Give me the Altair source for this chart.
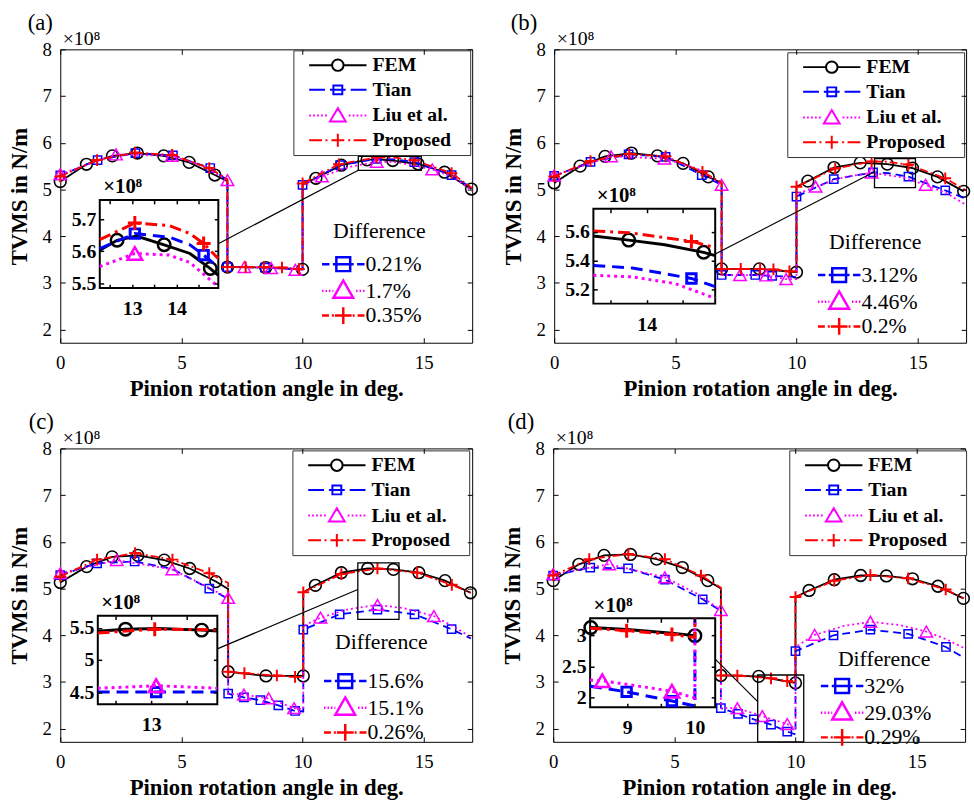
import altair as alt
import pandas as pd

F = "Liberation Serif"
W, H = 417, 297
X_MAIN = [0, 17]
Y_MAIN = [1.72, 8]
X_TICKS = [0, 5, 10, 15]
Y_TICKS = [2, 3, 4, 5, 6, 7, 8]
SERIES = ["FEM", "Tian", "Liu et al.", "Proposed"]
COLORS = ["#000000", "#0000FF", "#FF00FF", "#FF0000"]

# ---------------- data: panel (a) ----------------
A_FEM = dict(x=[0, 1.08, 2.15, 3.18, 4.27, 5.32, 6.38, 6.9, 6.9, 8.48, 10.0, 10.0, 10.55, 11.6, 12.66, 13.1, 13.72, 14.77, 15.86, 16.97],
             y=[5.17, 5.54, 5.72, 5.78, 5.72, 5.58, 5.31, 5.18, 3.34, 3.33, 3.29, 5.12, 5.24, 5.52, 5.635, 5.647, 5.62, 5.546, 5.37, 5.01],
             m=[1, 1, 1, 1, 1, 1, 1, 0, 1, 1, 1, 0, 1, 1, 1, 0, 1, 1, 1, 1])
A_TIAN = dict(x=[0, 1.54, 3.1, 4.65, 6.19, 6.9, 6.9, 8.45, 10.0, 10.0, 11.55, 13.06, 13.83, 14.61, 16.15, 17.0],
              y=[5.30, 5.63, 5.78, 5.73, 5.46, 5.20, 3.34, 3.33, 3.29, 5.10, 5.52, 5.655, 5.644, 5.588, 5.31, 5.02],
              m=[1, 1, 1, 1, 1, 0, 1, 1, 0, 1, 1, 1, 0, 1, 1, 0])
A_LIU = dict(x=[0, 2.3, 4.6, 5.9, 6.9, 6.9, 7.6, 8.7, 9.7, 10.0, 10.0, 10.8, 11.9, 13.06, 13.83, 14.76, 15.35, 16.2, 17.0],
             y=[5.33, 5.75, 5.72, 5.50, 5.20, 3.34, 3.34, 3.32, 3.28, 3.28, 5.10, 5.28, 5.48, 5.593, 5.588, 5.495, 5.43, 5.27, 4.97],
             m=[1, 1, 1, 0, 1, 0, 1, 1, 1, 0, 0, 1, 0, 1, 0, 0, 1, 0, 0])
A_PROP = dict(x=[0, 1.52, 3.08, 4.62, 6.15, 6.9, 6.9, 7.65, 8.4, 9.15, 9.85, 10.0, 10.0, 11.5, 13.06, 13.83, 14.61, 16.15, 17.0],
              y=[5.28, 5.63, 5.79, 5.74, 5.46, 5.22, 3.34, 3.34, 3.34, 3.33, 3.30, 3.30, 5.13, 5.54, 5.688, 5.68, 5.624, 5.35, 5.03],
              m=[1, 1, 1, 1, 1, 0, 1, 1, 1, 1, 1, 0, 1, 1, 1, 0, 1, 1, 0])
AI_FEM = dict(x=[12.27, 12.66, 13.1, 13.72, 14.3, 14.76, 14.94], y=[5.603, 5.634, 5.647, 5.62, 5.593, 5.546, 5.525], m=[0, 1, 0, 1, 0, 1, 0])
AI_TIAN = dict(x=[12.27, 13.06, 13.83, 14.3, 14.61, 14.94], y=[5.608, 5.655, 5.644, 5.62, 5.588, 5.55], m=[0, 1, 0, 0, 1, 0])
AI_LIU = dict(x=[12.27, 13.06, 13.83, 14.3, 14.76, 14.94], y=[5.552, 5.593, 5.588, 5.565, 5.51, 5.49], m=[0, 1, 0, 0, 0, 0])
AI_PROP = dict(x=[12.27, 13.06, 13.83, 14.3, 14.61, 14.94], y=[5.636, 5.688, 5.68, 5.655, 5.624, 5.577], m=[0, 1, 0, 0, 1, 0])
A_INSET_X = [12.27, 14.94]
A_INSET_Y = [5.485, 5.76]
A_ZOOM = dict(x=[12.3, 14.9], y=[5.41, 5.71])
A_LINK = dict(x=[6.52, 12.3], y=[3.84, 5.41])
A_DIFF = ["0.21%", "1.7%", "0.35%"]

# ---------------- data: panel (b) ----------------
B_FEM = dict(x=[0, 1.07, 2.1, 3.19, 4.26, 5.32, 6.36, 6.91, 6.91, 8.47, 10.0, 10.0, 10.47, 11.55, 12.63, 13.75, 14.79, 15.82, 16.9],
             y=[5.14, 5.50, 5.71, 5.78, 5.72, 5.56, 5.27, 5.14, 3.30, 3.30, 3.23, 5.06, 5.18, 5.47, 5.57, 5.542, 5.457, 5.27, 4.96],
             m=[1, 1, 1, 1, 1, 1, 1, 0, 1, 1, 1, 0, 1, 1, 1, 1, 1, 1, 1])
B_TIAN = dict(x=[0, 1.5, 3.07, 4.6, 6.09, 6.91, 6.91, 8.3, 9.0, 10.0, 10.0, 11.54, 13.16, 13.8, 14.62, 16.14, 17.0],
              y=[5.29, 5.59, 5.75, 5.70, 5.31, 5.10, 3.17, 3.17, 3.15, 3.13, 4.85, 5.22, 5.365, 5.348, 5.275, 4.98, 4.80],
              m=[1, 1, 1, 1, 1, 0, 1, 1, 1, 0, 1, 1, 1, 0, 1, 1, 0])
B_LIU = dict(x=[0, 2.35, 4.55, 5.9, 6.91, 6.91, 7.67, 8.75, 9.57, 10.0, 10.0, 10.79, 12.0, 13.1, 14.39, 15.33, 16.2, 17.0],
             y=[5.30, 5.71, 5.66, 5.45, 5.10, 3.17, 3.17, 3.16, 3.08, 3.08, 4.90, 5.06, 5.27, 5.36, 5.26, 5.10, 4.92, 4.67],
             m=[1, 1, 1, 0, 1, 0, 1, 1, 1, 0, 0, 1, 0, 1, 0, 1, 0, 0])
B_PROP = dict(x=[0, 1.5, 3.1, 4.6, 6.12, 6.91, 6.91, 7.7, 8.5, 9.05, 9.71, 10.0, 10.0, 11.6, 13.1, 13.75, 14.62, 16.14, 17.0],
              y=[5.28, 5.61, 5.76, 5.71, 5.38, 5.15, 3.30, 3.30, 3.30, 3.29, 3.25, 3.24, 5.06, 5.45, 5.60, 5.594, 5.533, 5.24, 4.98],
              m=[1, 1, 1, 1, 1, 0, 1, 1, 1, 1, 1, 0, 1, 1, 1, 0, 1, 1, 0])
BI_FEM = dict(x=[13.26, 13.75, 14.25, 14.79, 14.95], y=[5.571, 5.542, 5.51, 5.457, 5.434], m=[0, 1, 0, 1, 0])
BI_TIAN = dict(x=[13.26, 13.8, 14.62, 14.95], y=[5.366, 5.348, 5.275, 5.218], m=[0, 0, 1, 0])
BI_LIU = dict(x=[13.26, 13.8, 14.39, 14.95], y=[5.297, 5.286, 5.24, 5.137], m=[0, 0, 0, 0])
BI_PROP = dict(x=[13.26, 13.75, 14.62, 14.95], y=[5.605, 5.594, 5.533, 5.49], m=[0, 0, 1, 0])
B_INSET_X = [13.26, 14.95]
B_INSET_Y = [5.10, 5.76]
B_ZOOM = dict(x=[13.22, 14.91], y=[5.04, 5.66])
B_LINK = dict(x=[6.65, 13.22], y=[3.62, 5.38])
B_DIFF = ["3.12%", "4.46%", "0.2%"]

# ---------------- data: panel (c) ----------------
C_FEM = dict(x=[0, 1.09, 2.14, 3.2, 4.29, 5.34, 6.42, 6.93, 6.93, 8.49, 10.03, 10.03, 10.53, 11.6, 12.69, 13.75, 14.8, 15.88, 16.93],
             y=[5.13, 5.47, 5.68, 5.71, 5.61, 5.43, 5.15, 4.99, 3.22, 3.13, 3.13, 4.92, 5.07, 5.34, 5.43, 5.41, 5.34, 5.17, 4.91],
             m=[1, 1, 1, 1, 1, 1, 1, 0, 1, 1, 1, 0, 1, 1, 1, 1, 1, 1, 1])
C_TIAN = dict(x=[0, 1.52, 3.07, 4.63, 6.15, 6.93, 6.93, 7.58, 8.26, 9.0, 9.69, 10.03, 10.03, 11.53, 13.09, 14.62, 16.15, 16.95],
              y=[5.29, 5.54, 5.58, 5.42, 5.0, 4.78, 2.75, 2.67, 2.61, 2.50, 2.38, 2.37, 4.12, 4.45, 4.55, 4.45, 4.13, 3.93],
              m=[1, 1, 1, 0, 1, 0, 1, 1, 1, 1, 1, 0, 1, 1, 1, 1, 1, 0])
C_LIU = dict(x=[0, 2.33, 4.62, 5.9, 6.93, 6.93, 7.58, 8.6, 9.65, 10.03, 10.03, 10.74, 11.9, 13.09, 14.2, 15.42, 16.2, 16.95],
             y=[5.33, 5.61, 5.41, 5.08, 4.80, 2.75, 2.73, 2.65, 2.44, 2.42, 4.20, 4.38, 4.56, 4.65, 4.58, 4.41, 4.20, 3.96],
             m=[1, 1, 1, 0, 1, 0, 1, 1, 1, 0, 0, 1, 0, 1, 0, 1, 0, 0])
C_PROP = dict(x=[0, 1.52, 3.09, 4.63, 6.15, 6.93, 6.93, 7.6, 8.3, 8.94, 9.69, 10.03, 10.03, 11.6, 13.09, 14.73, 16.16, 16.95],
              y=[5.26, 5.62, 5.76, 5.62, 5.33, 5.12, 3.22, 3.19, 3.16, 3.14, 3.11, 3.11, 4.92, 5.31, 5.43, 5.34, 5.08, 4.91],
              m=[1, 1, 1, 1, 1, 0, 1, 1, 0, 1, 1, 0, 1, 1, 1, 1, 1, 0])
CI_FEM = dict(x=[12.25, 12.64, 13.1, 13.71, 13.93], y=[5.446, 5.48, 5.49, 5.465, 5.45], m=[0, 1, 0, 1, 0])
CI_TIAN = dict(x=[12.25, 13.07, 13.93], y=[4.50, 4.50, 4.50], m=[0, 1, 0])
CI_LIU = dict(x=[12.25, 12.7, 13.07, 13.5, 13.93], y=[4.56, 4.58, 4.60, 4.58, 4.56], m=[0, 0, 1, 0, 0])
CI_PROP = dict(x=[12.25, 13.05, 13.93], y=[5.42, 5.48, 5.47], m=[0, 1, 0])
C_INSET_X = [12.25, 13.93]
C_INSET_Y = [4.31, 5.69]
C_ZOOM = dict(x=[12.28, 13.98], y=[4.34, 5.55])
C_LINK = dict(x=[6.48, 12.28], y=[3.71, 4.98])
C_DIFF = ["15.6%", "15.1%", "0.26%"]

# ---------------- data: panel (d) ----------------
D_FEM = dict(x=[0, 1.06, 2.1, 3.19, 4.27, 5.33, 6.38, 6.92, 6.92, 8.48, 10.0, 10.0, 10.56, 11.6, 12.69, 13.75, 14.83, 15.88, 16.93],
             y=[5.17, 5.52, 5.71, 5.73, 5.63, 5.45, 5.17, 5.0, 3.14, 3.12, 2.98, 4.82, 4.96, 5.19, 5.28, 5.27, 5.21, 5.05, 4.79],
             m=[1, 1, 1, 1, 1, 1, 1, 0, 1, 1, 1, 0, 1, 1, 1, 1, 1, 1, 1])
D_TIAN = dict(x=[0, 1.53, 3.09, 4.61, 6.17, 6.92, 6.92, 7.63, 8.28, 8.99, 9.66, 10.0, 10.0, 11.57, 13.09, 14.65, 16.21, 16.95],
              y=[5.28, 5.45, 5.43, 5.19, 4.77, 4.52, 2.44, 2.32, 2.20, 2.09, 1.94, 1.88, 3.66, 4.00, 4.12, 4.03, 3.75, 3.52],
              m=[1, 1, 1, 1, 1, 0, 1, 1, 1, 1, 1, 0, 1, 1, 1, 1, 1, 0])
D_LIU = dict(x=[0, 2.31, 4.61, 5.9, 6.92, 6.92, 7.6, 8.63, 9.66, 10.0, 10.0, 10.79, 12.0, 13.09, 14.3, 15.4, 16.2, 16.95],
             y=[5.31, 5.52, 5.24, 4.90, 4.54, 2.44, 2.44, 2.27, 2.10, 2.0, 3.75, 4.01, 4.20, 4.29, 4.22, 4.08, 3.92, 3.73],
             m=[1, 1, 1, 0, 1, 0, 1, 1, 1, 0, 0, 1, 0, 1, 0, 1, 0, 0])
D_PROP = dict(x=[0, 1.49, 3.1, 4.61, 6.1, 6.92, 6.92, 7.6, 8.99, 9.66, 10.0, 10.0, 11.6, 13.09, 14.65, 16.2, 16.95],
              y=[5.28, 5.63, 5.74, 5.63, 5.28, 5.02, 3.14, 3.14, 3.08, 3.02, 2.98, 4.82, 5.17, 5.29, 5.22, 4.98, 4.79],
              m=[1, 1, 1, 1, 1, 0, 1, 1, 1, 1, 0, 1, 1, 1, 1, 1, 0])
DI_FEM = dict(x=[8.46, 9.0, 9.66, 10.0], y=[3.13, 3.10, 3.04, 3.0], m=[1, 0, 0, 1])
DI_TIAN = dict(x=[8.45, 8.99, 9.66, 10.0, 10.0], y=[2.18, 2.09, 1.94, 1.86, 3.28], m=[0, 1, 1, 0, 0])
DI_LIU = dict(x=[8.45, 8.63, 9.66, 10.0, 10.0], y=[2.28, 2.27, 2.10, 1.99, 3.28], m=[0, 1, 1, 0, 0])
DI_PROP = dict(x=[8.45, 8.99, 9.66, 10.0, 10.0], y=[3.12, 3.08, 3.02, 2.97, 3.28], m=[0, 1, 1, 0, 0])
D_INSET_X = [8.45, 10.30]
D_INSET_Y = [1.84, 3.28]
D_ZOOM = dict(x=[8.44, 10.34], y=[1.72, 3.15])
D_LINK = dict(x=[6.69, 8.44], y=[3.49, 2.58])
D_DIFF = ["32%", "29.03%", "0.29%"]

PANELS = {
    "a": dict(main=[A_FEM, A_TIAN, A_LIU, A_PROP], inset=[AI_FEM, AI_TIAN, AI_LIU, AI_PROP],
              ix=A_INSET_X, iy=A_INSET_Y, zoom=A_ZOOM, link=A_LINK, diff=A_DIFF,
              lab_x=[13, 14], tick_x=[12.5, 13, 13.5, 14, 14.5], lab_y=[5.5, 5.6, 5.7]),
    "b": dict(main=[B_FEM, B_TIAN, B_LIU, B_PROP], inset=[BI_FEM, BI_TIAN, BI_LIU, BI_PROP],
              ix=B_INSET_X, iy=B_INSET_Y, zoom=B_ZOOM, link=B_LINK, diff=B_DIFF,
              lab_x=[14], tick_x=[13.5, 14, 14.5], lab_y=[5.2, 5.4, 5.6]),
    "c": dict(main=[C_FEM, C_TIAN, C_LIU, C_PROP], inset=[CI_FEM, CI_TIAN, CI_LIU, CI_PROP],
              ix=C_INSET_X, iy=C_INSET_Y, zoom=C_ZOOM, link=C_LINK, diff=C_DIFF,
              lab_x=[13], tick_x=[12.5, 13, 13.5], lab_y=[4.5, 5, 5.5]),
    "d": dict(main=[D_FEM, D_TIAN, D_LIU, D_PROP], inset=[DI_FEM, DI_TIAN, DI_LIU, DI_PROP],
              ix=D_INSET_X, iy=D_INSET_Y, zoom=D_ZOOM, link=D_LINK, diff=D_DIFF,
              lab_x=[9, 10], tick_x=[9, 9.5, 10], lab_y=[2, 2.5, 3]),
}

# ---------------- layout (pixels relative to each plot area) ----------------
LAYOUT = {
    "a": dict(tag="(a)", tag_dx=-33, box=(40, 160, 152.4, 241.7), leg=(236, 1), dleg=(265, 174), dpad=10),
    "b": dict(tag="(b)", tag_dx=-44, box=(39.7, 163, 161.4, 257.4), leg=(236, 3), dleg=(267, 185), dpad=10),
    "c": dict(tag="(c)", tag_dx=-32, box=(38, 159, 169.3, 259), leg=(235, 2), dleg=(267, 186), dpad=16),
    "d": dict(tag="(d)", tag_dx=-46, box=(37.4, 164, 172, 262), leg=(239, 2), dleg=(271, 203), dpad=4),
}

PLUS = "M-1,0H1M0,-1V1"
STYLE_MAIN = [
    dict(color=COLORS[0], dash=None, lw=1.8, shape="circle", size=140, msw=1.6),
    dict(color=COLORS[1], dash=[8, 5], lw=1.8, shape="square", size=70, msw=1.5),
    dict(color=COLORS[2], dash=[2, 3], lw=1.8, shape="triangle-up", size=160, msw=1.5),
    dict(color=COLORS[3], dash=[8, 3, 2, 3], lw=1.8, shape=PLUS, size=140, msw=2),
]
STYLE_INSET = [
    dict(color=COLORS[0], dash=None, lw=3, shape="circle", size=160, msw=2.5),
    dict(color=COLORS[1], dash=[12, 7], lw=3, shape="square", size=90, msw=3),
    dict(color=COLORS[2], dash=[3, 4], lw=3, shape="triangle-up", size=220, msw=2.5),
    dict(color=COLORS[3], dash=[12, 5, 3, 5], lw=3, shape=PLUS, size=200, msw=3),
]


def dots(a, b, step, ln):
    out, p = "", a
    while p < b - 1e-9:
        out += "M%.2f,0H%.2f" % (p, min(p + ln, b))
        p += step
    return out


MAIN_PATHS = [
    "M-2.9,0H-0.58M0.58,0H2.9M0.58,0A0.58,0.58,0,1,1,-0.58,0A0.58,0.58,0,1,1,0.58,0",
    "M-2.9,0H-1.3M-0.8,0H0.8M-0.45,-0.45H0.45V0.45H-0.45ZM1.3,0H2.9",
    dots(-2.9, -0.9, 0.4, 0.18) + "M0,-0.75L0.8,0.6L-0.8,0.6Z" + dots(1.1, 2.9, 0.4, 0.18),
    "M-2.9,0H-1.6M-1.25,0H-1.05M-0.65,0H0.65M0,-0.65V0.65M1.05,0H1.25M1.6,0H2.9",
]
DIFF_PATHS = [
    "M-2.15,0H-1.4M-1.05,0H1.05M-0.7,-0.7H0.7V0.7H-0.7ZM1.4,0H2.15",
    dots(-2.15, -1.0, 0.35, 0.15) + "M0,-1.05L1.0,0.7L-1.0,0.7Z" + dots(1.3, 2.15, 0.35, 0.15),
    "M-2.15,0H-1.45M-1.15,0H-0.95M-0.85,0H0.85M0,-0.85V0.85M0.95,0H1.15M1.45,0H2.15",
]
BLANK = "\u2800"   # blank glyph used to give legend labels some trailing room


def sc(dom, rng=None):
    if rng is None:
        return alt.Scale(domain=dom, nice=False, zero=False)
    return alt.Scale(domain=dom, range=rng, nice=False, zero=False)


def series(s, sty, xs, ys, xax, yax):
    df = pd.DataFrame({"x": s["x"], "y": s["y"], "m": s["m"], "i": list(range(len(s["x"])))})
    kw = dict(color=sty["color"], strokeWidth=sty["lw"])
    if sty["dash"]:
        kw["strokeDash"] = sty["dash"]
    line = alt.Chart(df).mark_line(**kw).encode(
        x=alt.X("x:Q", scale=xs, axis=xax), y=alt.Y("y:Q", scale=ys, axis=yax), order=alt.Order("i:Q"))
    pts = alt.Chart(df).transform_filter("datum.m == 1").mark_point(
        shape=sty["shape"], size=sty["size"], filled=False, color=sty["color"],
        strokeWidth=sty["msw"], opacity=1).encode(
        x=alt.X("x:Q", scale=xs, axis=None), y=alt.Y("y:Q", scale=ys, axis=None))
    return [line, pts]


def panel(key):
    P, L = PANELS[key], LAYOUT[key]
    xs, ys = sc(X_MAIN), sc(Y_MAIN)
    x0, x1, y0, y1 = L["box"]
    ixs, iys = sc(P["ix"], [x0, x1]), sc(P["iy"], [y1, y0])
    fk = dict(labelFont=F, titleFont=F)

    ax_main = [
        (alt.Axis(orient="bottom", values=X_TICKS, ticks=False, labelFontSize=19, labelPadding=11,
                  format="~r", title="Pinion rotation angle in deg.", titleFontSize=23,
                  titleFontWeight="bold", titleY=35, titleBaseline="top", zindex=1, **fk),
         alt.Axis(orient="left", values=Y_TICKS, ticks=False, labelFontSize=19, labelPadding=9,
                  format="~r", title="TVMS in N/m", titleFontSize=23, titleFontWeight="bold",
                  titlePadding=11, zindex=1, **fk)),
        (alt.Axis(orient="top", offset=-H, values=X_TICKS, labels=False, tickSize=5, title=None, zindex=1),
         alt.Axis(orient="right", offset=-W, values=Y_TICKS, labels=False, tickSize=5, zindex=1,
                  title="×10⁸", titleAngle=0, titleX=2, titleY=-5, titleAlign="left",
                  titleBaseline="alphabetic", titleFontSize=20, titleFontWeight="normal", **fk)),
        (alt.Axis(orient="bottom", offset=-H, values=X_TICKS, labels=False, tickSize=5, title=None, zindex=1),
         alt.Axis(orient="left", offset=-W, values=Y_TICKS, labels=False, tickSize=5, title=None, zindex=1)),
        (None, None),
    ]
    layers = []
    for s, sty, ax in zip(P["main"], STYLE_MAIN, ax_main):
        layers += series(s, sty, xs, ys, ax[0], ax[1])

    # zoomed-region rectangle and connector
    z = P["zoom"]
    zdf = pd.DataFrame({"x": [z["x"][0]], "x2": [z["x"][1]], "y": [z["y"][0]], "y2": [z["y"][1]]})
    layers.append(alt.Chart(zdf).mark_rect(fillOpacity=0, stroke="black", strokeWidth=1.3).encode(
        x=alt.X("x:Q", scale=xs, axis=None), x2="x2:Q", y=alt.Y("y:Q", scale=ys, axis=None), y2="y2:Q"))
    k = P["link"]
    kdf = pd.DataFrame({"x": k["x"], "y": k["y"], "i": [0, 1]})
    layers.append(alt.Chart(kdf).mark_line(color="black", strokeWidth=1.2).encode(
        x=alt.X("x:Q", scale=xs, axis=None), y=alt.Y("y:Q", scale=ys, axis=None), order="i:Q"))

    # inset frame with its labelled axes
    fdf = pd.DataFrame({"x": [P["ix"][0]], "x2": [P["ix"][1]], "y": [P["iy"][0]], "y2": [P["iy"][1]]})
    layers.append(alt.Chart(fdf).mark_rect(fill="white", stroke="black", strokeWidth=2).encode(
        x=alt.X("x:Q", scale=ixs, axis=alt.Axis(orient="bottom", offset=y1 - H, values=P["lab_x"], ticks=False,
                                                labelFontSize=20, labelFontWeight="bold", labelPadding=11,
                                                format="~r", title=None, zindex=1, **fk)),
        x2="x2:Q",
        y=alt.Y("y:Q", scale=iys, axis=alt.Axis(orient="left", offset=-x0, values=P["lab_y"], ticks=False,
                                                labelFontSize=20, labelFontWeight="bold", labelPadding=4,
                                                format="~r", title=None, zindex=1, **fk)),
        y2="y2:Q"))
    ax_in = [
        (alt.Axis(orient="top", offset=-y1, values=P["tick_x"], labels=False, tickSize=4, tickWidth=1.5, title=None, zindex=2),
         alt.Axis(orient="right", offset=x0 - W, values=P["lab_y"], labels=False, tickSize=4, tickWidth=1.5, zindex=2,
                  title="×10⁸", titleAngle=0, titleX=3, titleY=y0 - 7, titleAlign="left",
                  titleBaseline="alphabetic", titleFontSize=21, titleFontWeight="bold", **fk)),
        (alt.Axis(orient="bottom", offset=y0 - H, values=P["tick_x"], labels=False, tickSize=4, tickWidth=1.5, title=None, zindex=2),
         alt.Axis(orient="left", offset=-x1, values=P["lab_y"], labels=False, tickSize=4, tickWidth=1.5, title=None, zindex=2)),
        (None, None),
        (None, None),
    ]
    for s, sty, ax in zip(P["inset"], STYLE_INSET, ax_in):
        layers += series(s, sty, ixs, iys, ax[0], ax[1])

    # legends
    lx, ly = L["leg"]
    leg_main = alt.Legend(orient="none", legendX=lx, legendY=ly, padding=4,
                          title="I", titleOrient="left", titleColor="white", titleFontSize=18,
                          titlePadding=4, titleFont=F,
                          strokeColor="#333333", fillColor="white", cornerRadius=0,
                          labelFont=F, labelFontSize=20, labelFontWeight="bold", labelColor="black",
                          labelLimit=400, labelExpr="datum.label + '" + BLANK + "'",
                          symbolSize=400, symbolStrokeWidth=2, symbolOffset=18, labelOffset=24,
                          rowPadding=4)
    ldf = pd.DataFrame({"s": SERIES})
    layers.append(alt.Chart(ldf).transform_filter("false").mark_point(filled=False, opacity=1).encode(
        color=alt.Color("s:N", scale=alt.Scale(domain=SERIES, range=COLORS), legend=leg_main),
        shape=alt.Shape("s:N", scale=alt.Scale(domain=SERIES, range=MAIN_PATHS), legend=leg_main)))

    dx, dy = L["dleg"]
    leg_diff = alt.Legend(orient="none", legendX=dx, legendY=dy, title="Difference", titleFont=F,
                          titleFontSize=22, titleFontWeight="normal", titleColor="black",
                          titleAnchor="middle", titlePadding=L["dpad"], padding=0,
                          labelFont=F, labelFontSize=22, labelColor="black", labelLimit=400,
                          labelExpr="datum.label + '" + BLANK + "'",
                          symbolSize=400, symbolStrokeWidth=2.5, symbolOffset=10, labelOffset=11,
                          rowPadding=-1)
    ddf = pd.DataFrame({"d": P["diff"]})
    layers.append(alt.Chart(ddf).transform_filter("false").mark_point(filled=False, opacity=1).encode(
        color=alt.Color("d:N", scale=alt.Scale(domain=P["diff"], range=COLORS[1:]), legend=leg_diff),
        shape=alt.Shape("d:N", scale=alt.Scale(domain=P["diff"], range=DIFF_PATHS), legend=leg_diff)))

    return alt.layer(*layers).resolve_scale(
        x="independent", y="independent", color="independent", shape="independent"
    ).properties(
        width=W, height=H,
        title=alt.TitleParams(text=L["tag"], anchor="start", frame="group", dx=L["tag_dx"], fontSize=23,
                              font=F, fontWeight="normal", color="black", offset=-6))


row1 = alt.hconcat(panel("a"), panel("b"), spacing=21)
row2 = alt.hconcat(panel("c"), panel("d"), spacing=21)
chart = alt.vconcat(row1, row2, spacing=9).properties(
    padding={"left": 8, "top": 6, "right": 0, "bottom": 0}, background="white"
).configure_view(stroke="black", strokeWidth=1).configure_axis(
    labelFont=F, titleFont=F, labelColor="black", titleColor="black", tickColor="black",
    domain=False, grid=False, labelFlush=False
)

chart.save("out.html", embed_options={"renderer": "svg", "actions": False})
